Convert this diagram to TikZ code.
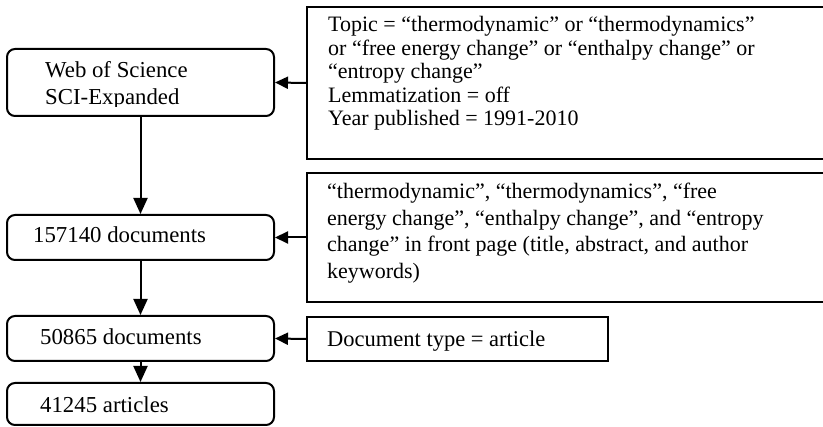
\documentclass[tikz,border=0pt]{standalone}
\usepackage{fontspec}
\setmainfont{Liberation Serif}
\usetikzlibrary{arrows.meta}
\tikzset{
  lbox/.style={draw, line width=2pt, rounded corners=8pt, inner sep=0pt, minimum width=267pt},
  rbox/.style={draw, line width=1.8pt, inner sep=0pt},
  harr/.style={line width=2pt, -{Triangle[length=13pt,width=12pt]}},
  varr/.style={line width=2pt, -{Triangle[length=16pt,width=14pt]}},
  txt/.style={anchor=base west, inner sep=0pt}
}
\begin{document}
\begin{tikzpicture}[x=1pt,y=-1pt]
\useasboundingbox (0,0) rectangle (823,427);
% left boxes
\node[lbox, minimum height=67pt] (b1) at (140.5,82.5) {};
\node[lbox, minimum height=45pt] (b2) at (140.5,237.5) {};
\node[lbox, minimum height=45pt] (b3) at (140.5,338.5) {};
\node[lbox, minimum height=42pt] (b4) at (140.5,404) {};
% right boxes (right edge runs past the picture border)
\node[rbox, minimum width=520pt, minimum height=152pt] (bA) at (567,83) {};
\node[rbox, minimum width=520pt, minimum height=129pt] (bB) at (567,237.5) {};
\node[rbox, minimum width=301pt, minimum height=44pt] (bC) at (457.5,339) {};
% texts
\fontsize{22.8}{26}\selectfont
\begin{scope}
\clip (0,40) rectangle (300,107);
\node[txt] (t1) at (45,78) {\parbox[t]{220pt}{\fontsize{22.8}{27}\selectfont Web of Science\\SCI-Expanded}};
\end{scope}
\node[txt] (t2) at (33,243) {157140 documents};
\node[txt] (t3) at (40,345) {50865 documents};
\node[txt] (t4) at (40,413) {41245 articles};
\fontsize{22}{23}\selectfont
\node[txt] (tA) at (328,32) {\parbox[t]{480pt}{\fontsize{22}{23.5}\selectfont
Topic = “thermodynamic” or “thermodynamics”\\
or “free energy change” or “enthalpy change” or\\
“entropy change”\\
Lemmatization = off\\
Year published = 1991-2010}};
\node[txt] (tB) at (327,199) {\parbox[t]{480pt}{\fontsize{22}{26.5}\selectfont
“thermodynamic”, “thermodynamics”, “free\\
energy change”, “enthalpy change”, and “entropy\\
change” in front page (title, abstract, and author\\
keywords)}};
\node[txt] (tC) at (327,347) {\fontsize{22.5}{26}\selectfont Document type = article};
% arrows
\draw[harr] (bA.west) -- (b1.east);
\draw[harr] (bB.west) -- (b2.east);
\draw[harr] (bC.west) -- (b3.east);
\draw[varr] (b1.south) -- (b2.north);
\draw[varr] (b2.south) -- (b3.north);
\draw[varr] (b3.south) -- (b4.north);
\end{tikzpicture}
\end{document}
